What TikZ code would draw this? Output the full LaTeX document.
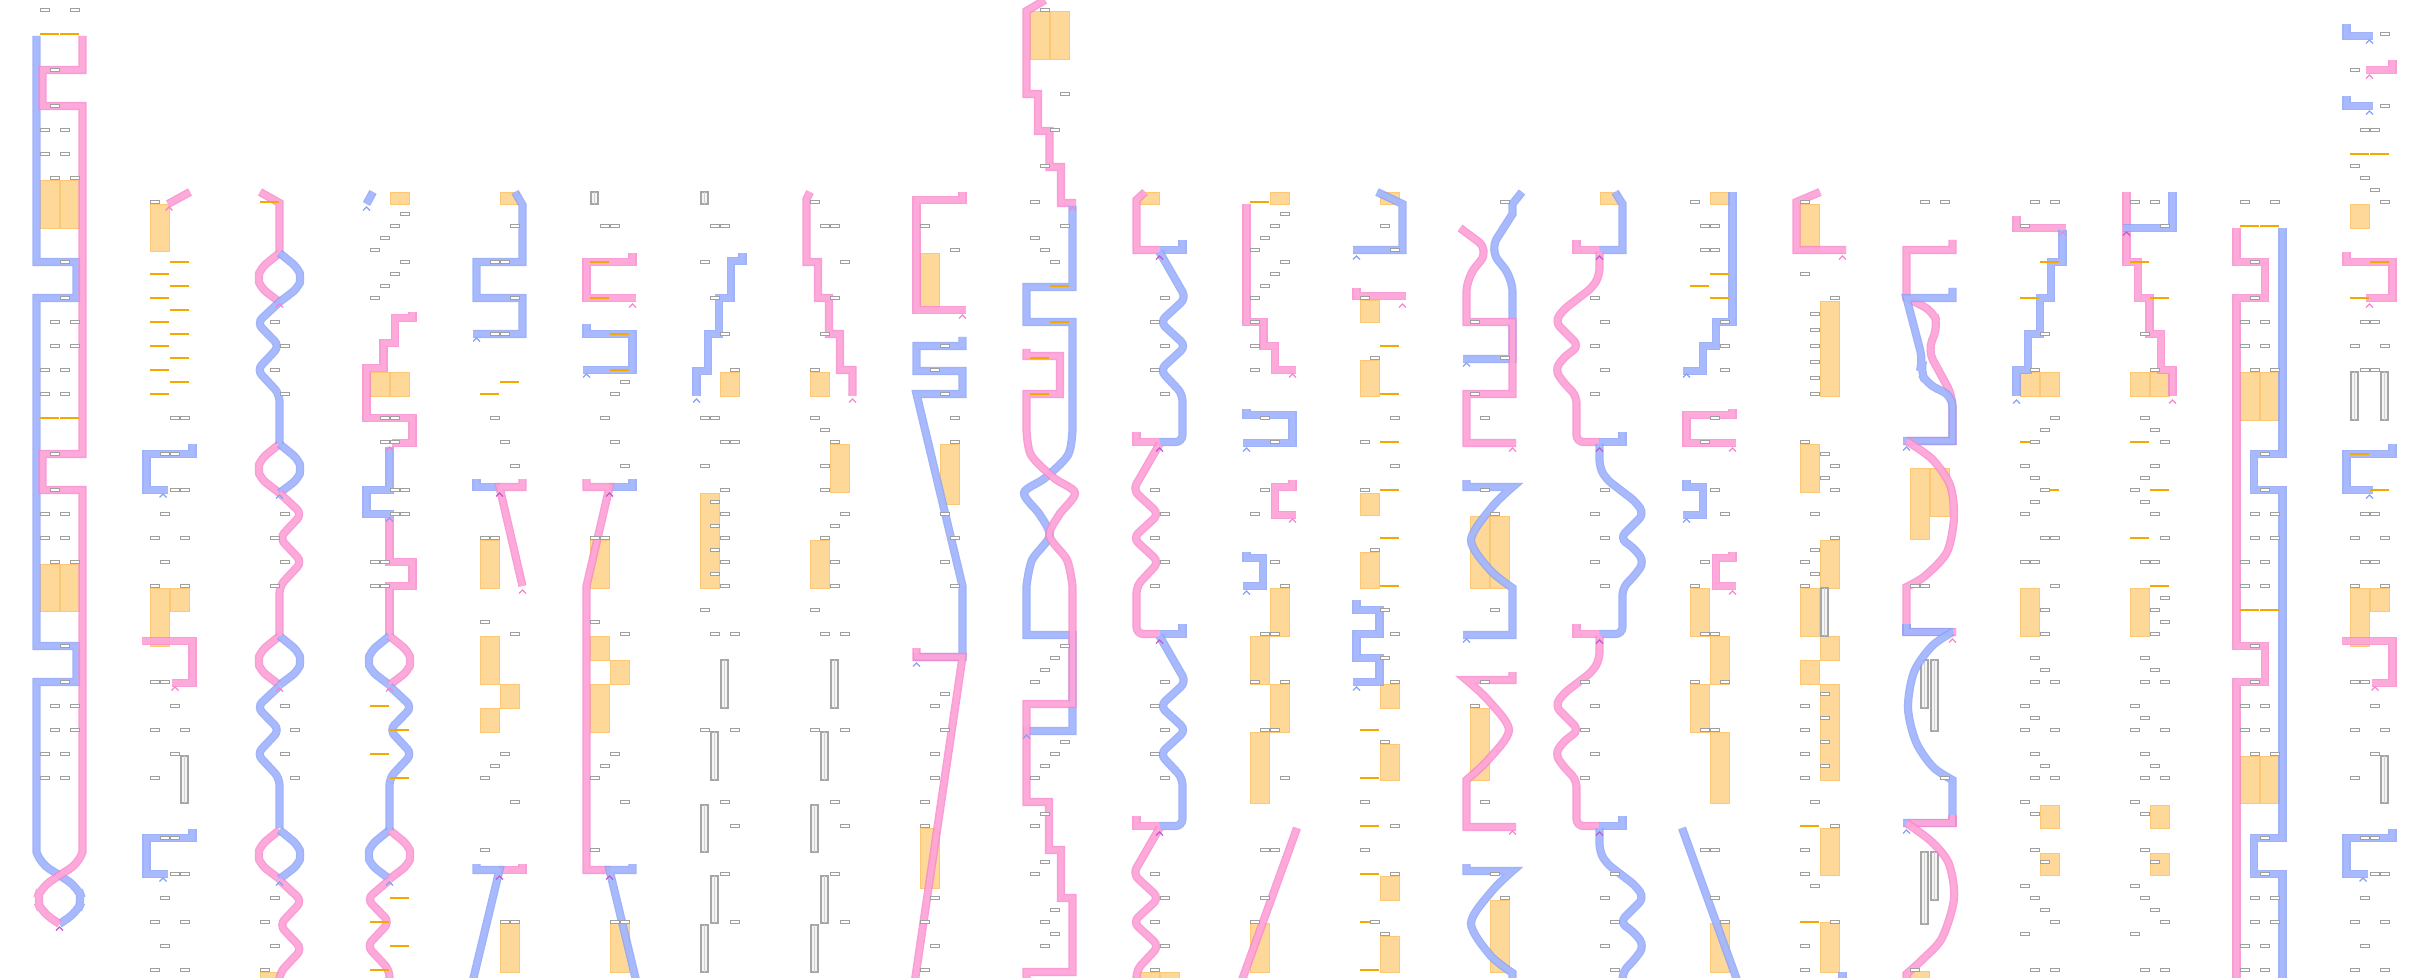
\documentclass[tikz,border=0pt]{standalone}
\usepackage{xcolor}
\usepackage{tikz}

\definecolor{pinkfill}{RGB}{255,172,218}
\definecolor{pinkedge}{RGB}{248,132,204}
\definecolor{bluefill}{RGB}{170,188,255}
\definecolor{blueedge}{RGB}{136,160,248}
\definecolor{mixedge}{RGB}{190,90,210}
\definecolor{boxorange}{RGB}{254,216,152}
\definecolor{boxedge}{RGB}{252,200,118}
\definecolor{barorange}{RGB}{245,168,0}

% slot s sits at 40+10s inside a column, y is a row line
\newcommand{\greyslots}[1]{\foreach \s/\y in {#1} {\draw[gbox] ({40+10*\s},{\y-1.3}) rectangle ++(9,2.6);}}
\newcommand{\orangebars}[1]{\foreach \s/\y in {#1} {\fill[obar] ({40+10*\s},{\y-1.3}) rectangle ++(19,2.6);}}
\newcommand{\orangeblocks}[1]{\foreach \s/\ya/\yb in {#1} {\filldraw[obox] ({40+10*\s},\ya) rectangle ({59+10*\s},\yb);}}
\newcommand{\ladderbars}[1]{\foreach \x/\ya/\yb in {#1} {\filldraw[ladder] (\x,\ya) rectangle ({\x+7},\yb); \draw[ladderline] ({\x+3.5},\ya) -- ({\x+3.5},\yb);}}
\newcommand{\strandtips}[1]{\foreach \tipcol/\x/\y in {#1} {\draw[draw=\tipcol, line width=0.12mm] ({\x-3.5},{\y+3.5}) -- (\x,\y) -- ({\x+3.5},{\y+3.5});}}

\begin{document}
\begin{tikzpicture}[
    x=0.1mm, y=-0.1mm,
    pinkstrand/.style={draw=pinkedge, double=pinkfill, line width=0.14mm, double distance=0.54mm, opacity=0.8, line join=miter, line cap=butt},
    bluestrand/.style={draw=blueedge, double=bluefill, line width=0.14mm, double distance=0.54mm, opacity=0.8, line join=miter, line cap=butt},
    gbox/.style={draw=gray!75, fill=white, line width=0.08mm},
    obar/.style={fill=barorange},
    obox/.style={fill=boxorange, draw=boxedge, line width=0.08mm},
    ladder/.style={fill=gray!8, draw=gray!70, line width=0.12mm},
    ladderline/.style={draw=gray!35, line width=0.1mm}
]
\useasboundingbox (0,0) rectangle (2430,978);
\clip (0,0) rectangle (2430,978);

% Column 0
\begin{scope}
\orangeblocks{0/180/228, 2/180/228, 0/564/611, 2/564/611}
\draw[bluestrand] (36.5,36) -- (36.5,262) -- (76.5,262) -- (76.5,298) -- (36.5,298) -- (36.5,646) -- (76.5,646) -- (76.5,682) -- (36.5,682) -- (36.5,852) [rounded corners=3] -- (41,864) -- (59.5,875) -- (78,888) -- (82.5,900) -- (77,912) -- (59.5,924);
\draw[pinkstrand] (82.5,36) -- (82.5,70) -- (42.5,70) -- (42.5,106) -- (82.5,106) -- (82.5,454) -- (42.5,454) -- (42.5,490) -- (82.5,490) -- (82.5,852) [rounded corners=3] -- (78,864) -- (59.5,875) -- (41,888) -- (36.5,900) -- (42,912) -- (59.5,924);
\greyslots{0/10, 3/10, 1/70, 1/106, 0/130, 2/130, 0/154, 2/154, 1/178, 3/178, 2/262, 2/298, 1/322, 3/322, 1/346, 3/346, 0/370, 2/370, 0/394, 2/394, 1/454, 1/490, 0/514, 2/514, 0/538, 2/538, 1/562, 3/562, 2/646, 2/682, 1/706, 3/706, 1/730, 3/730, 0/754, 2/754, 0/778, 2/778}
\orangebars{0/34, 2/34, 0/418, 2/418}
\strandtips{mixedge/59.5/927}
\end{scope}

% Column 1
\begin{scope}[shift={(110,0)}]
\orangeblocks{0/204/251, 0/588/646, 2/588/611}
\ladderbars{71/756/803}
\draw[pinkstrand] (80,192) -- (58,204);
\draw[bluestrand] (82.5,444) -- (82.5,454) -- (36.5,454) -- (36.5,490) -- (58,490);
\draw[pinkstrand] (32,641) -- (82.5,641) -- (82.5,683) -- (62,683);
\draw[bluestrand] (82.5,829) -- (82.5,838) -- (36.5,838) -- (36.5,874) -- (58,874);
\greyslots{0/202, 2/418, 3/418, 1/454, 2/454, 2/490, 3/490, 1/514, 0/538, 3/538, 1/562, 0/586, 3/586, 0/682, 1/682, 2/706, 0/730, 3/730, 2/754, 0/778, 1/838, 2/838, 2/874, 3/874, 1/898, 0/922, 3/922, 1/946, 0/970, 3/970}
\orangebars{2/262, 0/274, 2/286, 0/298, 2/310, 0/322, 2/334, 0/346, 2/358, 0/370, 2/382, 0/394}
\strandtips{pinkedge/59/207, blueedge/53/494, pinkedge/65/687, blueedge/53/878}
\end{scope}

% Column 2
\begin{scope}[shift={(220,0)}]
\orangeblocks{0/972/990}
\draw[pinkstrand] (40,192) -- (59.5,203) -- (59.5,253);
\foreach \y in {253,444,636,830} {
  \draw[pinkstrand, rounded corners=2] (59.5,\y) -- (41,\y+15) -- (37.5,\y+25) -- (41,\y+35) -- (59.5,\y+49);
  \draw[bluestrand, rounded corners=2] (59.5,\y) -- (78,\y+15) -- (81.5,\y+25) -- (78,\y+35) -- (59.5,\y+49);
}
\foreach \y in {302,686}
  \draw[bluestrand, rounded corners=2] (59.5,\y) -- (37,\y+21) -- (59.5,\y+44) -- (37,\y+68) -- (59.5,\y+92) -- (59.5,\y+142);
\foreach \y in {493,880}
  \draw[pinkstrand, rounded corners=2] (59.5,\y) -- (82,\y+21) -- (59.5,\y+45) -- (82,\y+69) -- (59.5,\y+93) -- (59.5,\y+143);
\greyslots{1/322, 2/346, 1/370, 2/394, 2/514, 1/538, 2/562, 1/586, 2/706, 3/730, 2/754, 3/778, 1/898, 0/922, 1/946, 0/970}
\orangebars{0/202}
\strandtips{pinkedge/59.5/304, blueedge/59.5/495, pinkedge/59.5/688, blueedge/59.5/882}
\end{scope}

% Column 3
\begin{scope}[shift={(330,0)}]
\orangeblocks{2/192/204, 0/372/396, 2/372/396}
\draw[bluestrand] (43,192) -- (36.5,204);
\draw[pinkstrand] (82.5,312) -- (82.5,318) -- (65,318) -- (65,343) -- (53.5,343) -- (53.5,368) -- (36.5,368) -- (36.5,418) -- (82.5,418) -- (82.5,443) -- (62,443);
\draw[bluestrand] (59.5,447) -- (59.5,490) -- (36.5,490) -- (36.5,514) -- (63.5,514);
\draw[pinkstrand] (59.5,518) -- (59.5,562) -- (82.5,562) -- (82.5,586) -- (59.5,586) -- (59.5,636);
\foreach \y in {636,830} {
  \draw[bluestrand, rounded corners=2] (59.5,\y) -- (41,\y+15) -- (37.5,\y+25) -- (41,\y+35) -- (59.5,\y+49);
  \draw[pinkstrand, rounded corners=2] (59.5,\y) -- (78,\y+15) -- (81.5,\y+25) -- (78,\y+35) -- (59.5,\y+49);
}
\draw[bluestrand, rounded corners=2] (59.5,686) -- (82,707) -- (59.5,730) -- (82,754) -- (59.5,778) -- (59.5,830);
\draw[pinkstrand, rounded corners=2] (59.5,880) -- (37,899) -- (59.5,922) -- (37,946) -- (59.5,970) -- (59.5,990);
\greyslots{3/214, 2/226, 1/238, 0/250, 3/262, 2/274, 1/286, 0/298, 1/418, 2/418, 1/442, 2/442, 2/490, 3/490, 2/514, 3/514, 0/562, 1/562, 0/586, 1/586}
\orangebars{0/706, 2/730, 0/754, 2/778, 2/898, 0/922, 2/946, 0/970}
\strandtips{blueedge/36.5/207, pinkedge/59.5/447, blueedge/59.5/518, pinkedge/59.5/688, blueedge/59.5/882}
\end{scope}

% Column 4
\begin{scope}[shift={(440,0)}]
\orangeblocks{2/192/204, 0/540/588, 0/636/684, 0/708/732, 2/684/708, 2/922/972}
\draw[bluestrand] (75,192) -- (82.5,205) -- (82.5,262) -- (36.5,262) -- (36.5,298) -- (82.5,298) -- (82.5,334) -- (33,334);
\draw[bluestrand] (36.5,479) -- (36.5,487) -- (60,487);
\draw[pinkstrand] (82.5,479) -- (82.5,487) -- (59.5,487) -- (82.5,586);
\draw[pinkstrand] (82.5,864) -- (82.5,870) -- (59,870);
\draw[bluestrand] (36.5,864) -- (36.5,870) -- (59.5,870) -- (33,980);
\greyslots{3/226, 1/262, 2/262, 3/298, 1/334, 2/334, 1/418, 2/442, 3/466, 0/538, 1/538, 0/622, 3/634, 2/754, 1/766, 0/778, 3/802, 0/850, 2/922, 3/922}
\orangebars{2/382, 0/394}
\strandtips{blueedge/36.5/338, mixedge/59.5/493, pinkedge/82.5/590, mixedge/59.5/876}
\end{scope}

% Column 5
\begin{scope}[shift={(550,0)}]
\orangeblocks{0/540/588, 0/636/660, 0/684/732, 2/660/684, 2/922/972}
\ladderbars{41/192/204}
\draw[pinkstrand] (82.5,253) -- (82.5,262) -- (36.5,262) -- (36.5,298) -- (86,298);
\draw[bluestrand] (36.5,324) -- (36.5,334) -- (82.5,334) -- (82.5,370) -- (33,370);
\draw[bluestrand] (82.5,479) -- (82.5,487) -- (59,487);
\draw[pinkstrand] (36.5,479) -- (36.5,487) -- (59.5,487) -- (36.5,586) -- (36.5,870) -- (60,870);
\draw[bluestrand] (82.5,864) -- (82.5,870) -- (59.5,870) -- (86,980);
\greyslots{1/226, 2/226, 3/382, 2/394, 1/418, 2/442, 3/466, 0/538, 1/538, 0/622, 3/634, 2/754, 1/766, 0/778, 3/802, 0/850, 2/922, 3/922}
\orangebars{0/262, 0/298, 2/334, 2/370}
\strandtips{pinkedge/82.5/304, blueedge/36.5/374, mixedge/59.5/493, mixedge/59.5/876}
\end{scope}

% Column 6
\begin{scope}[shift={(660,0)}]
\orangeblocks{2/372/396, 0/493/588}
\ladderbars{41/192/204, 61/660/708, 51/732/780, 41/805/852, 51/876/923, 41/925/972}
\draw[bluestrand] (82.5,253) -- (82.5,261) -- (70.7,261) -- (70.7,298) -- (59,298) -- (59,334) -- (48,334) -- (48,371) -- (36.5,371) -- (36.5,396);
\greyslots{1/226, 2/226, 0/262, 1/298, 2/334, 3/370, 0/418, 1/418, 2/442, 3/442, 0/466, 2/490, 1/502, 2/514, 1/526, 2/538, 1/550, 2/562, 1/574, 2/586, 0/610, 1/634, 3/634, 0/730, 3/730, 2/802, 3/826, 2/874, 3/922}
\strandtips{blueedge/36.5/399}
\end{scope}

% Column 7
\begin{scope}[shift={(770,0)}]
\orangeblocks{0/372/396, 2/444/492, 0/540/588}
\ladderbars{61/660/708, 51/732/780, 41/805/852, 51/876/923, 41/925/972}
\draw[pinkstrand] (40,192) -- (36.5,199) -- (36.5,262) -- (48,262) -- (48,298) -- (59,298) -- (59,334) -- (70,334) -- (70,370) -- (82.5,370) -- (82.5,396);
\greyslots{0/202, 1/226, 2/226, 3/262, 2/298, 1/334, 0/370, 0/418, 1/430, 2/442, 1/466, 1/490, 3/514, 2/526, 1/538, 2/562, 2/586, 0/610, 1/634, 3/634, 0/730, 3/730, 2/802, 3/826, 2/874, 3/922}
\strandtips{pinkedge/82.5/399}
\end{scope}

% Column 8
\begin{scope}[shift={(880,0)}]
\orangeblocks{0/253/310, 2/444/504, 0/828/888}
\draw[pinkstrand] (82.5,192) -- (82.5,200) -- (36.5,200) -- (36.5,310) -- (86,310);
\draw[bluestrand] (82.5,337) -- (82.5,346) -- (36.5,346) -- (36.5,371) -- (82.5,371) -- (82.5,394) -- (36.5,394) -- (82.5,586) -- (82.5,657) -- (33,657);
\draw[pinkstrand] (36.5,648) -- (36.5,657) -- (82.5,657) -- (35,980);
\greyslots{0/226, 3/250, 2/346, 1/370, 2/394, 3/418, 3/442, 2/514, 3/538, 2/562, 3/586, 2/694, 1/706, 2/730, 1/754, 1/778, 0/802, 0/826, 1/898, 0/922, 1/946, 0/970}
\strandtips{pinkedge/82.5/315, blueedge/36.5/663}
\end{scope}

% Column 9
\begin{scope}[shift={(990,0)}]
\orangeblocks{0/11/59, 2/11/59}
\draw[pinkstrand] (55,0) -- (36.5,11) -- (36.5,94) -- (48,94) -- (48,131) -- (59.5,131) -- (59.5,167) -- (71,167) -- (71,203) -- (86,203);
\draw[bluestrand] (82.5,206) -- (82.5,287) -- (36.5,287) -- (36.5,322) -- (82.5,322) -- (82.5,428) -- plot[smooth] coordinates {(82.5,430) (78,455) (55,478) (34,493) (50,515) (59.5,536) (42,560) (36.5,586)} -- (36.5,635) -- (82.5,635) -- (82.5,731) -- (33,731);
\draw[pinkstrand] (36.5,349) -- (36.5,356) -- (70,356) -- (70,394) -- (36.5,394) -- (36.5,428) -- plot[smooth] coordinates {(36.5,430) (41,455) (64,478) (85,493) (69,515) (59.5,536) (77,560) (82.5,586)} -- (82.5,704) -- (36.5,704) -- (36.5,802) -- (59,802) -- (59,850) -- (71,850) -- (71,898) -- (82.5,898) -- (82.5,972) -- (36.5,972) -- (36.5,990);
\greyslots{1/10, 3/94, 2/130, 1/166, 0/202, 3/226, 0/238, 1/250, 2/262, 3/646, 2/658, 1/670, 0/682, 3/742, 2/754, 1/766, 0/778, 1/814, 0/826, 1/862, 0/874, 2/910, 1/922, 2/934, 1/946}
\orangebars{2/286, 2/322, 0/358, 0/394}
\strandtips{pinkedge/82.5/207, blueedge/36.5/735}
\end{scope}

% Column 10
\begin{scope}[shift={(1100,0)}]
\orangeblocks{0/192/204, 0/972/990, 2/972/990}
\draw[pinkstrand] (45,192) -- (36.5,200) -- (36.5,250) -- (60,250);
\foreach \y in {250,634} {
  \draw[bluestrand] (82.5,\y-10) -- (82.5,\y) -- (60,\y);
  \draw[bluestrand, rounded corners=2] (59.5,\y+2) -- (86,\y+48) -- (60,\y+72) -- (86,\y+96) -- (60,\y+120) -- (82.5,\y+144) -- (82.5,\y+192) -- (59,\y+192);
  \draw[pinkstrand] (36.5,\y+182) -- (36.5,\y+192) -- (60,\y+192);
  \draw[pinkstrand, rounded corners=2] (59.5,\y+194) -- (33,\y+240) -- (59,\y+264) -- (33,\y+288) -- (59,\y+312) -- (36.5,\y+336) -- (36.5,\y+384) -- (60,\y+384);
}
\greyslots{2/298, 1/322, 2/346, 1/370, 2/394, 1/490, 2/514, 1/538, 2/562, 1/586, 2/682, 1/706, 2/730, 1/754, 2/778, 1/874, 2/898, 1/922, 2/946, 1/970}
\strandtips{mixedge/59.5/256, mixedge/59.5/448, mixedge/59.5/640, mixedge/59.5/832}
\end{scope}

% Column 11
\begin{scope}[shift={(1210,0)}]
\orangeblocks{2/192/204, 2/588/636, 2/684/732, 0/636/684, 0/732/803, 0/923/972}
\draw[pinkstrand] (36.5,204) -- (36.5,322) -- (53.5,322) -- (53.5,346) -- (65,346) -- (65,370) -- (86,370);
\draw[bluestrand] (36.5,409) -- (36.5,415) -- (82.5,415) -- (82.5,443) -- (33,443);
\draw[pinkstrand] (82.5,480) -- (82.5,487) -- (65,487) -- (65,515) -- (86,515);
\draw[bluestrand] (36.5,552) -- (36.5,558) -- (53,558) -- (53,586) -- (33,586);
\draw[pinkstrand] (87,828) -- (32,980);
\greyslots{3/214, 2/226, 1/238, 0/250, 3/262, 2/274, 1/286, 0/298, 0/322, 0/346, 0/370, 1/418, 2/442, 1/490, 0/514, 2/562, 3/586, 1/634, 2/634, 0/682, 3/682, 1/730, 2/730, 3/778, 1/850, 2/850, 1/898, 0/922}
\orangebars{0/202}
\strandtips{pinkedge/82.5/374, blueedge/36.5/448, pinkedge/82.5/519, blueedge/36.5/591}
\end{scope}

% Column 12
\begin{scope}[shift={(1320,0)}]
\orangeblocks{2/192/204, 0/300/322, 0/360/396, 0/493/515, 0/552/588, 2/684/708, 2/744/780, 2/876/900, 2/936/972}
\draw[bluestrand] (57,192) -- (82.5,204) -- (82.5,250) -- (33,250);
\draw[pinkstrand] (36.5,288) -- (36.5,296) -- (86,296);
\draw[bluestrand] (36.5,600) -- (36.5,610) -- (59.5,610) -- (59.5,634) -- (36.5,634) -- (36.5,658) -- (59.5,658) -- (59.5,682) -- (33,682);
\orangebars{2/346, 2/394, 2/442, 2/490, 2/538, 2/586, 0/730, 0/778, 0/826, 0/874, 0/922, 0/970}
\greyslots{2/226, 3/250, 0/298, 1/358, 3/418, 0/442, 3/466, 0/490, 1/550, 2/610, 3/634, 2/658, 3/682, 2/742, 0/802, 3/826, 0/850, 3/874, 1/922, 2/934}
\strandtips{blueedge/36.5/256, pinkedge/82.5/304, blueedge/36.5/687}
\end{scope}

% Column 13
\begin{scope}[shift={(1430,0)}]
\orangeblocks{0/516/588, 2/516/588, 0/708/780, 2/900/972}
\draw[bluestrand] (92,192) -- (82.5,204) -- (82.5,214) [rounded corners=4] -- (59.5,250) -- (82.5,278) [sharp corners] -- (82.5,359) -- (33,359);
\draw[pinkstrand] (30,228) [rounded corners=4] -- (59.5,250) -- (36.5,278) [sharp corners] -- (36.5,322) -- (82.5,322) -- (82.5,394) -- (36.5,394) -- (36.5,443) -- (86,443);
\draw[bluestrand] (36.5,480) -- (36.5,487) -- plot[smooth] coordinates {(82.5,487) (62,507) (41,540) (60,570) (82.5,588)} -- (82.5,635) -- (33,635);
\draw[pinkstrand] (82.5,672) -- (82.5,680) -- plot[smooth] coordinates {(36.5,680) (58,700) (79,730) (58,760) (36.5,780)} -- (36.5,827) -- (86,827);
\draw[bluestrand] (36.5,864) -- (36.5,871) -- plot[smooth] coordinates {(82.5,871) (62,891) (41,923) (60,955) (82.5,973)} -- (82.5,990);
\greyslots{3/202, 0/322, 3/358, 0/394, 1/418, 1/490, 2/514, 2/610, 1/682, 0/706, 1/802, 2/874, 3/898}
\strandtips{blueedge/36.5/363, pinkedge/82.5/448, blueedge/36.5/639, pinkedge/82.5/831}
\end{scope}

% Column 14
\begin{scope}[shift={(1540,0)}]
\orangeblocks{2/192/204}
\draw[bluestrand] (75,192) -- (82.5,204) -- (82.5,250) -- (59,250);
\draw[pinkstrand] (36.5,240) -- (36.5,250) -- (60,250);
\foreach \y in {250,634} {
  \draw[pinkstrand, rounded corners=2] (59.5,\y+2) -- (59.5,\y+25) -- (53,\y+37) -- (23,\y+60) -- (15,\y+72) -- (39,\y+96) -- (23,\y+108) -- (15,\y+120) -- (23,\y+132) -- (36.5,\y+146) -- (36.5,\y+192) -- (60,\y+192);
  \draw[bluestrand] (82.5,\y+182) -- (82.5,\y+192) -- (59,\y+192);
  \draw[bluestrand, rounded corners=2] (59.5,\y+194) -- (59.5,\y+217) -- (66,\y+229) -- (96,\y+252) -- (104,\y+264) -- (80,\y+288) -- (96,\y+300) -- (104,\y+312) -- (96,\y+324) -- (82.5,\y+338) -- (82.5,\y+384) -- (59,\y+384);
  \draw[pinkstrand] (36.5,\y+374) -- (36.5,\y+384) -- (60,\y+384);
}
\greyslots{1/298, 2/322, 1/346, 2/370, 1/394, 2/490, 1/514, 2/538, 1/562, 2/586, 0/682, 1/706, 0/730, 1/754, 0/778, 3/874, 2/898, 3/922, 2/946, 3/970}
\strandtips{mixedge/59.5/256, mixedge/59.5/448, mixedge/59.5/640, mixedge/59.5/832}
\end{scope}

% Column 15
\begin{scope}[shift={(1650,0)}]
\orangeblocks{2/192/204, 0/588/636, 0/684/732, 2/636/684, 2/732/803, 2/923/972}
\draw[bluestrand] (82.5,192) -- (82.5,322) -- (66,322) -- (66,346) -- (53,346) -- (53,371) -- (33,371);
\draw[pinkstrand] (82.5,409) -- (82.5,415) -- (36.5,415) -- (36.5,443) -- (86,443);
\draw[bluestrand] (36.5,480) -- (36.5,487) -- (53,487) -- (53,515) -- (33,515);
\draw[pinkstrand] (82.5,552) -- (82.5,558) -- (66,558) -- (66,586) -- (86,586);
\draw[bluestrand] (32,828) -- (87,980);
\orangebars{2/274, 0/286, 2/298}
\greyslots{0/202, 1/226, 2/226, 1/250, 2/250, 3/322, 3/346, 3/370, 2/418, 1/442, 2/490, 3/514, 1/562, 0/586, 1/634, 2/634, 0/682, 3/682, 1/730, 2/730, 1/850, 2/850, 2/898, 3/922}
\strandtips{blueedge/36.5/374, pinkedge/82.5/448, blueedge/36.5/519, pinkedge/82.5/591}
\end{scope}

% Column 16
\begin{scope}[shift={(1760,0)}]
\orangeblocks{0/204/251, 2/301/396, 0/444/492, 2/540/588, 0/588/636, 2/636/660, 0/660/684, 2/684/780, 2/828/875, 2/922/972}
\ladderbars{61/588/636}
\draw[pinkstrand] (60,192) -- (36.5,202) -- (36.5,250) -- (86,250);
\draw[bluestrand] (82.5,972) -- (82.5,990);
\orangebars{0/826, 0/922}
\greyslots{0/202, 0/274, 3/298, 1/314, 1/330, 1/346, 1/362, 1/378, 1/394, 0/442, 2/454, 3/466, 2/478, 3/490, 1/514, 3/538, 1/550, 0/562, 1/574, 0/586, 2/694, 2/718, 2/742, 2/766, 0/706, 0/730, 0/754, 0/778, 1/802, 3/826, 0/850, 0/874, 1/886, 3/922, 0/946, 0/970}
\strandtips{pinkedge/82.5/256}
\end{scope}

% Column 17
\begin{scope}[shift={(1870,0)}]
\orangeblocks{0/468/539, 2/468/516, 0/971/990}
\ladderbars{51/660/708, 61/660/731, 51/852/924, 61/852/900}
\draw[pinkstrand] (82.5,240) -- (82.5,250) -- (36.5,250) -- (36.5,298) [rounded corners=3] -- (63,311) -- (68,325) -- (58,351) -- (82.5,396) [sharp corners] -- (82.5,441) -- (36.5,441);
\draw[bluestrand] (82.5,288) -- (82.5,298) -- (36.5,298) [rounded corners=3] -- (53,361) -- (50,371) -- (57,384) -- (82.5,396) [sharp corners] -- (82.5,441) -- (33,441);
\draw[pinkstrand] plot[smooth] coordinates {(36.5,441) (62,459) (80,485) (84,517) (77,552) (55,576) (36.5,587)} -- (36.5,632) -- (86,632);
\draw[bluestrand] (36.5,624) -- (36.5,632) -- (82.5,632);
\draw[bluestrand] plot[smooth] coordinates {(82.5,632) (62,646) (44,672) (38,708) (46,742) (63,767) (82.5,780)} -- (82.5,823) -- (33,823);
\draw[pinkstrand] (82.5,815) -- (82.5,823) -- (36.5,823);
\draw[pinkstrand] plot[smooth] coordinates {(36.5,823) (62,842) (79,864) (84,899) (72,938) (53,959) (36.5,974)} -- (36.5,990);
\greyslots{1/202, 3/202, 0/586, 1/586, 3/778, 0/970}
\strandtips{blueedge/36.5/447, pinkedge/82.5/639, blueedge/36.5/830}
\end{scope}

% Column 18
\begin{scope}[shift={(1980,0)}]
\orangeblocks{0/372/396, 2/372/396, 0/588/636, 2/805/828, 2/853/875}
\draw[pinkstrand] (36.5,216) -- (36.5,228) -- (86,228);
\draw[bluestrand] (82.5,230) -- (82.5,262) -- (71,262) -- (71,298) -- (60,298) -- (60,334) -- (48,334) -- (48,370) -- (36.5,370) -- (36.5,396);
\orangebars{2/262, 0/298, 0/442, 2/490}
\greyslots{1/202, 3/202, 0/226, 2/334, 1/370, 3/418, 2/430, 1/442, 0/466, 1/478, 2/490, 1/502, 0/514, 2/538, 3/538, 0/562, 1/562, 3/586, 2/610, 2/634, 1/658, 2/670, 1/682, 3/682, 0/706, 1/718, 0/730, 3/730, 1/754, 2/766, 1/778, 3/778, 0/802, 1/814, 1/850, 2/862, 0/886, 1/898, 2/910, 3/922, 0/934, 1/970, 3/970}
\strandtips{pinkedge/82.5/232, blueedge/36.5/400}
\end{scope}

% Column 19
\begin{scope}[shift={(2090,0)}]
\orangeblocks{0/372/396, 2/372/396, 0/588/636, 2/805/828, 2/853/875}
\draw[pinkstrand] (36.5,192) -- (36.5,262) -- (48,262) -- (48,298) -- (59.5,298) -- (59.5,334) -- (71,334) -- (71,370) -- (82.5,370) -- (82.5,396);
\draw[bluestrand] (82.5,192) -- (82.5,228) -- (33,228);
\orangebars{0/262, 2/298, 0/442, 2/490, 0/538, 2/586}
\greyslots{0/202, 2/202, 3/226, 1/334, 2/370, 1/418, 2/430, 3/442, 2/466, 1/478, 0/490, 1/502, 2/514, 3/538, 1/562, 2/562, 3/598, 2/610, 3/622, 2/634, 1/658, 2/670, 1/682, 3/682, 0/706, 1/718, 0/730, 3/730, 1/754, 2/766, 1/778, 3/778, 0/802, 1/814, 1/850, 2/862, 0/886, 1/898, 2/910, 3/922, 0/934, 1/970, 3/970}
\strandtips{mixedge/36.5/232, pinkedge/82.5/400}
\end{scope}

% Column 20
\begin{scope}[shift={(2200,0)}]
\orangeblocks{0/372/420, 2/372/420, 0/756/803, 2/756/803}
\draw[pinkstrand] (36.5,228) -- (36.5,262) -- (65,262) -- (65,298) -- (36.5,298) -- (36.5,646) -- (65,646) -- (65,682) -- (36.5,682) -- (36.5,990);
\draw[bluestrand] (82.5,228) -- (82.5,454) -- (54,454) -- (54,490) -- (82.5,490) -- (82.5,838) -- (54,838) -- (54,874) -- (82.5,874) -- (82.5,990);
\orangebars{0/226, 2/226, 0/610, 2/610}
\greyslots{0/202, 3/202, 1/262, 1/298, 0/322, 2/322, 0/346, 2/346, 1/370, 3/370, 2/454, 2/490, 1/514, 3/514, 1/538, 3/538, 0/562, 2/562, 0/586, 2/586, 1/646, 1/682, 0/706, 2/706, 0/730, 2/730, 1/754, 3/754, 2/838, 2/874, 1/898, 3/898, 1/922, 3/922, 0/946, 2/946, 0/970, 2/970}
\end{scope}

% Column 21
\begin{scope}[shift={(2310,0)}]
\orangeblocks{0/204/228, 0/588/646, 2/588/611}
\ladderbars{41/372/420, 71/372/420, 71/756/803}
\draw[bluestrand] (36.5,24) -- (36.5,36) -- (63,36);
\draw[pinkstrand] (82.5,60) -- (82.5,70) -- (56,70);
\draw[bluestrand] (36.5,96) -- (36.5,106) -- (63,106);
\draw[pinkstrand] (36.5,252) -- (36.5,262) -- (82.5,262) -- (82.5,298) -- (56,298);
\draw[bluestrand] (82.5,444) -- (82.5,454) -- (36.5,454) -- (36.5,490) -- (63,490);
\draw[pinkstrand] (32,641) -- (82.5,641) -- (82.5,683) -- (62,683);
\draw[bluestrand] (82.5,829) -- (82.5,838) -- (36.5,838) -- (36.5,874) -- (58,874);
\orangebars{0/154, 2/154, 2/262, 0/298, 0/454, 2/490}
\greyslots{3/34, 0/70, 3/106, 1/130, 2/130, 0/166, 1/178, 2/190, 3/202, 1/322, 2/322, 0/346, 3/346, 1/370, 2/370, 1/514, 2/514, 0/538, 3/538, 1/562, 2/562, 0/586, 3/586, 0/682, 1/682, 2/706, 0/730, 3/730, 2/754, 0/778, 1/838, 2/838, 2/874, 3/874, 1/898, 0/922, 3/922, 1/946, 0/970, 3/970}
\strandtips{blueedge/59.5/40, pinkedge/59.5/75, blueedge/59.5/111, pinkedge/59.5/304, blueedge/59.5/495, pinkedge/65/687, blueedge/53/878}
\end{scope}

\end{tikzpicture}
\end{document}
